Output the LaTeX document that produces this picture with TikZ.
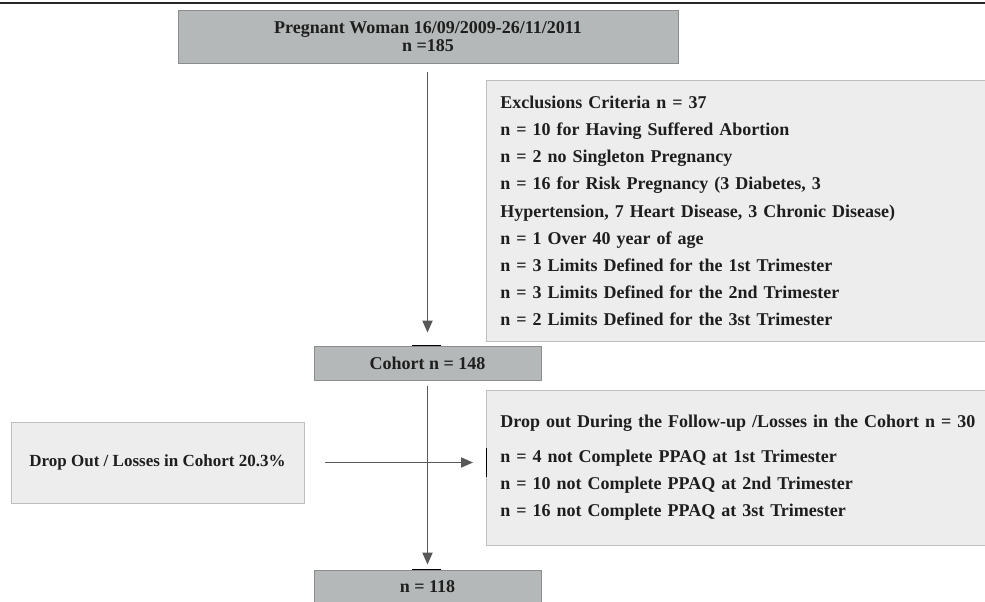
\documentclass[tikz,border=0pt]{standalone}
\usepackage{fontspec}
\setmainfont{Liberation Serif}
\usetikzlibrary{arrows.meta, positioning, calc}
\definecolor{darkbox}{RGB}{181,184,184}
\definecolor{lightbox}{RGB}{237,237,237}
\definecolor{darkedge}{RGB}{140,142,142}
\definecolor{lightedge}{RGB}{190,190,190}
\definecolor{flowgray}{RGB}{88,88,88}
\definecolor{inkgray}{RGB}{30,30,30}
\tikzset{
	mainbox/.style={draw=darkedge, fill=darkbox, line width=.8pt, text=inkgray, font=\bfseries\fontsize{18}{18.5}\selectfont, align=center, inner sep=0pt},
	sidebox/.style={draw=lightedge, fill=lightbox, line width=.8pt, text=inkgray, font=\bfseries\fontsize{18}{27.2}\selectfont, align=left, inner sep=0pt, inner xsep=14pt},
	flow/.style={-{Triangle[length=12pt, width=10pt]}, draw=flowgray, line width=1.8pt},
	blackmark/.style={draw=black, line width=1pt},
}
\newcommand{\pagew}{985}
\newcommand{\pageh}{602}

\begin{document}
\begin{tikzpicture}[x=1pt, y=-1pt]
	\useasboundingbox (0,0) rectangle (\pagew, \pageh);
	\draw[line width=2.5pt, black!85] (0,3) -- (\pagew,3);
		% boxes of the flow
		\node[mainbox, minimum width=500pt, minimum height=53pt] (preg) at (428, 36.5) {Pregnant Woman 16/09/2009-26/11/2011\\n =185};
		\node[mainbox, minimum width=227pt, minimum height=34pt] (cohort) at (427.5, 363) {Cohort n = 148};
		\node[mainbox, minimum width=227pt, minimum height=34pt] (final) at (427.5, 587) {n = 118};
		% side boxes
		\node[sidebox, anchor=north west, minimum width=501pt, minimum height=261pt, text width=473pt] (excl) at (486, 80) {Exclusions Criteria n = 37\\
			n = 10 for Having Suffered Abortion\\
			n = 2 no Singleton Pregnancy\\
			n = 16 for Risk Pregnancy (3 Diabetes, 3\\
			Hypertension, 7 Heart Disease, 3 Chronic Disease)\\
			n = 1 Over 40 year of age\\
			n = 3 Limits Defined for the 1st Trimester\\
			n = 3 Limits Defined for the 2nd Trimester\\
			n = 2 Limits Defined for the 3st Trimester};
		\node[sidebox, anchor=north west, minimum width=501pt, minimum height=155pt, text width=520pt] (drop) at (486, 390) {Drop out During the Follow-up /Losses in the Cohort n = 30\\[7pt]
			n = 4 not Complete PPAQ at 1st Trimester\\
			n = 10 not Complete PPAQ at 2nd Trimester\\
			n = 16 not Complete PPAQ at 3st Trimester};
		\node[sidebox, align=center, font=\bfseries\fontsize{17}{20}\selectfont, minimum width=293pt, minimum height=81pt] (loss) at (157.5, 462.5) {Drop Out / Losses in Cohort 20.3\%};
		% arrows
		\draw[flow] ([yshift=-9pt]preg.south -| cohort.north) -- ([yshift=13pt]cohort.north);
		\draw[flow] ([yshift=-6pt]cohort.south) -- ([yshift=5pt]final.north);
		\draw[flow] ([xshift=21pt]loss.east) -- ([xshift=-13pt]loss.east -| drop.west);
		% small black marks
		\draw[blackmark] ([xshift=-16pt]cohort.north) -- ([xshift=13pt]cohort.north);
		\draw[blackmark] ([xshift=-16pt]final.north) -- ([xshift=13pt]final.north);
		\draw[blackmark] ([yshift=-14pt]loss.east -| drop.west) -- ([yshift=15pt]loss.east -| drop.west);
\end{tikzpicture}
\end{document}
